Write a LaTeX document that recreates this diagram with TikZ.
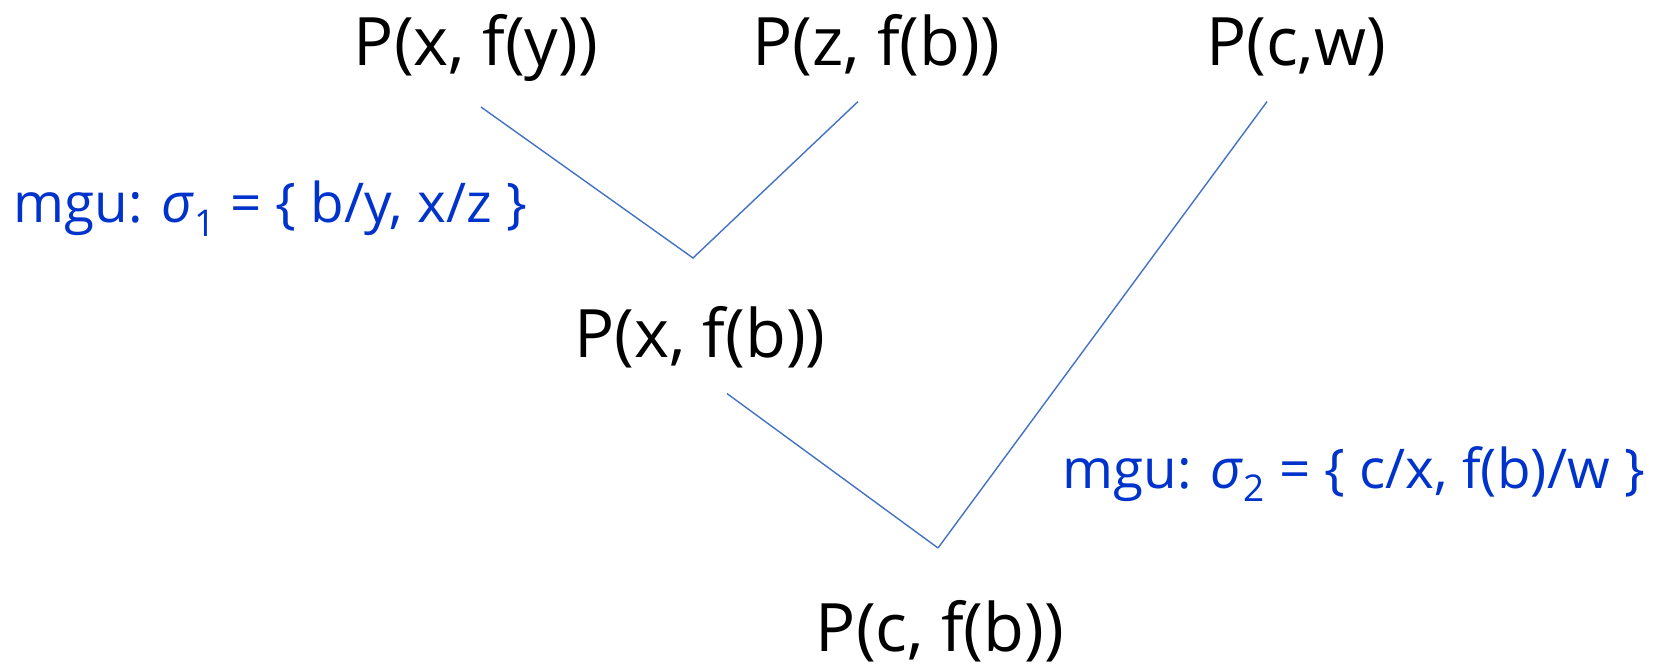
\documentclass[tikz,border=0pt]{standalone}
\usepackage{fontspec}
\setmainfont{Open Sans}
\usepackage{tikz}
\usetikzlibrary{positioning,calc}
\usepackage{xcolor}
\definecolor{mgublue}{RGB}{0,51,204}
\definecolor{edgeblue}{RGB}{68,114,196}
\newcommand{\sub}[1]{\raisebox{-0.24em}{\fontsize{10.5}{12}\selectfont #1}}

\begin{document}
\begin{tikzpicture}[
    term/.style={anchor=base,inner sep=0pt,outer ysep=0.25cm,font=\fontsize{19}{22}\selectfont},
    mgu/.style={anchor=base west,inner sep=0pt,text=mgublue,font=\fontsize{15.6}{18}\selectfont},
    edge/.style={draw=edgeblue,line width=0.4pt}]

\useasboundingbox (0,0) rectangle (16.64,6.64);

% Clauses
\node[term] (pxfy) at (4.76,5.98) {P(x, f(y))};
\node[term] (pzfb) at (8.76,5.98) {P(z, f(b))};
\node[term] (pcw)  at (12.96,5.98) {P(c,w)};
\node[term] (pxfb) at (7.00,3.06) {P(x, f(b))};
\node[term] (pcfb) at (9.40,0.13) {P(c, f(b))};

% Points de fusion
\coordinate (m1) at (6.93,4.06);
\coordinate (m2) at (9.38,1.16);

% Arbre
\draw[edge] ([xshift=0.05cm]pxfy.south) -- (m1) -- ([xshift=-0.18cm]pzfb.south);
\draw[edge] ([xshift=0.27cm]pxfb.south) -- (m2);
\draw[edge] (m2) -- ([xshift=-0.29cm]pcw.south);

% Unificateurs
\node[mgu] (s1) at (0.13,4.41) {mgu: \textit{σ}\sub{1} = \{ b/y, x/z \}};
\node[mgu] (s2) at (10.62,1.76) {mgu: \textit{σ}\sub{2} = \{ c/x, f(b)/w \}};

\end{tikzpicture}
\end{document}
